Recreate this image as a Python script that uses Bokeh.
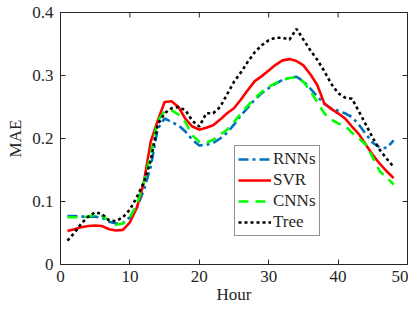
from bokeh.plotting import figure
from bokeh.models import Range1d, FixedTicker, Legend, LegendItem
from bokeh.embed import file_html
from bokeh.resources import INLINE

hours = list(range(1, 49))
rnns = [0.077, 0.077, 0.076, 0.076, 0.076, 0.074, 0.068, 0.065, 0.066, 0.075,
        0.090, 0.118, 0.155, 0.215, 0.232, 0.226, 0.221, 0.211, 0.198, 0.189,
        0.190, 0.193, 0.200, 0.209, 0.222, 0.237, 0.249, 0.262, 0.272, 0.280,
        0.287, 0.293, 0.296, 0.298, 0.291, 0.279, 0.267, 0.255, 0.248, 0.244,
        0.240, 0.234, 0.222, 0.207, 0.193, 0.186, 0.185, 0.197]
svr = [0.053, 0.056, 0.059, 0.061, 0.062, 0.061, 0.056, 0.054, 0.055, 0.067,
       0.090, 0.130, 0.195, 0.228, 0.258, 0.259, 0.250, 0.231, 0.219, 0.214,
       0.217, 0.221, 0.230, 0.240, 0.248, 0.262, 0.277, 0.291, 0.299, 0.308,
       0.317, 0.324, 0.326, 0.323, 0.316, 0.302, 0.285, 0.256, 0.247, 0.240,
       0.232, 0.219, 0.207, 0.190, 0.174, 0.160, 0.148, 0.137]
cnns = [0.075, 0.075, 0.075, 0.076, 0.079, 0.077, 0.070, 0.063, 0.065, 0.075,
        0.095, 0.130, 0.175, 0.228, 0.243, 0.245, 0.238, 0.226, 0.205, 0.195,
        0.193, 0.198, 0.206, 0.214, 0.226, 0.240, 0.252, 0.264, 0.274, 0.282,
        0.288, 0.293, 0.296, 0.297, 0.290, 0.275, 0.258, 0.240, 0.230, 0.224,
        0.221, 0.209, 0.200, 0.190, 0.170, 0.148, 0.138, 0.127]
tree = [0.038, 0.050, 0.065, 0.076, 0.083, 0.080, 0.070, 0.069, 0.075, 0.087,
        0.107, 0.130, 0.165, 0.222, 0.240, 0.248, 0.250, 0.245, 0.228, 0.219,
        0.240, 0.240, 0.250, 0.270, 0.290, 0.305, 0.322, 0.337, 0.348, 0.356,
        0.360, 0.360, 0.357, 0.374, 0.357, 0.340, 0.325, 0.307, 0.287, 0.272,
        0.265, 0.263, 0.243, 0.222, 0.201, 0.182, 0.168, 0.155]

x_ticks = [0, 10, 20, 30, 40, 50]
x_tick_labels = ["0", "10", "20", "30", "40", "50"]
y_ticks = [0, 0.1, 0.2, 0.3, 0.4]
y_tick_labels = ["0", "0.1", "0.2", "0.3", "0.4"]

FONT = "Liberation Serif"
TXT = "#262626"
X0, X1, Y0, Y1 = 0, 50, 0, 0.4

W, H = 408, 308
BL, BR, BT, BB = 60, 1, 12, 44
FW, FH = W - BL - BR, H - BT - BB

p = figure(width=W, height=H, output_backend="svg", toolbar_location=None,
           x_range=Range1d(X0, X1), y_range=Range1d(Y0, Y1),
           min_border_left=BL, min_border_right=BR, min_border_top=BT, min_border_bottom=BB)
p.grid.visible = False
p.outline_line_color = TXT
p.outline_line_width = 1
p.background_fill_color = "white"
p.border_fill_color = "white"

for ax, ticks, labels in ((p.xaxis[0], x_ticks, x_tick_labels), (p.yaxis[0], y_ticks, y_tick_labels)):
    ax.ticker = FixedTicker(ticks=ticks)
    ax.major_label_overrides = {t: l for t, l in zip(ticks, labels)}
    ax.major_tick_in = 5
    ax.major_tick_out = 0
    ax.minor_tick_line_color = None
    ax.axis_line_color = TXT
    ax.major_tick_line_color = TXT
    ax.major_label_text_font = FONT
    ax.major_label_text_font_size = "17px"
    ax.major_label_text_color = TXT
    ax.axis_label_text_font = FONT
    ax.axis_label_text_font_size = "17px"
    ax.axis_label_text_font_style = "normal"
    ax.axis_label_text_color = TXT

p.xaxis.axis_label = "Hour"
p.yaxis.axis_label = "MAE"
p.xaxis.major_label_standoff = 6
p.yaxis.major_label_standoff = 7
p.xaxis.axis_label_standoff = 0
p.yaxis.axis_label_standoff = 4

# inward ticks on the top and right edges of the box
tick_len_y = (Y1 - Y0) * 5 / FH
tick_len_x = (X1 - X0) * 5 / FW
p.segment(x0=x_ticks, x1=x_ticks, y0=[Y1] * len(x_ticks), y1=[Y1 - tick_len_y] * len(x_ticks),
          line_color=TXT, line_width=1)
p.segment(x0=[X1] * len(y_ticks), x1=[X1 - tick_len_x] * len(y_ticks), y0=y_ticks, y1=y_ticks,
          line_color=TXT, line_width=1)

r1 = p.line(hours, rnns, line_color="#0072BD", line_width=2.6, line_dash="10 4 3 4")
r2 = p.line(hours, svr, line_color="#FF0000", line_width=2.6)
r3 = p.line(hours, cnns, line_color="#00FF00", line_width=2.6, line_dash="10 7")
r4 = p.line(hours, tree, line_color="#000000", line_width=2.6, line_dash="3 3")

legend = Legend(items=[LegendItem(label="RNNs", renderers=[r1]),
                       LegendItem(label="SVR", renderers=[r2]),
                       LegendItem(label="CNNs", renderers=[r3]),
                       LegendItem(label="Tree", renderers=[r4])],
                location=(int(FW * 25.2 / 50), int(FH * 0.045 / 0.4)))
legend.label_text_font = FONT
legend.label_text_font_size = "17px"
legend.label_text_color = TXT
legend.border_line_color = TXT
legend.border_line_width = 1
legend.background_fill_alpha = 1
legend.glyph_width = 33
legend.glyph_height = 20
legend.label_height = 20
legend.label_standoff = 2
legend.spacing = 1
legend.padding = 3
legend.margin = 0
p.add_layout(legend, "center")

open("out.html", "w").write(file_html(p, INLINE))
